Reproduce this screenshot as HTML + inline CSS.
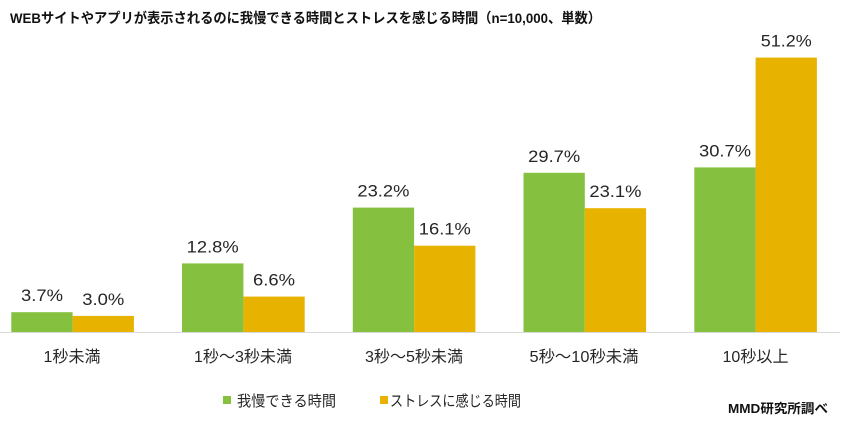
<!DOCTYPE html>
<html><head><meta charset="utf-8">
<style>
html,body{margin:0;padding:0;background:#fff;}
svg{display:block;}
text{font-family:"Liberation Sans","Noto Sans CJK JP",sans-serif;fill:#262626;}
</style></head>
<body>
<svg width="849" height="425" viewBox="0 0 849 425" xmlns="http://www.w3.org/2000/svg">
<rect width="849" height="425" fill="#fff"/>
<text x="10" y="23" font-size="14" font-weight="bold" fill="#111" style="fill:#111" textLength="591" lengthAdjust="spacingAndGlyphs">WEBサイトやアプリが表示されるのに我慢できる時間とストレスを感じる時間（n=10,000、単数）</text>

<!-- bars -->
<g>
<rect x="11.3" y="312.2" width="61.3" height="19.8" fill="#85c13f"/>
<rect x="72.6" y="315.9" width="61.3" height="16.1" fill="#e7b300"/>
<rect x="182" y="263.4" width="61.4" height="68.6" fill="#85c13f"/>
<rect x="243.4" y="296.6" width="61.3" height="35.4" fill="#e7b300"/>
<rect x="352.8" y="207.6" width="61.3" height="124.4" fill="#85c13f"/>
<rect x="414.1" y="245.7" width="61.3" height="86.3" fill="#e7b300"/>
<rect x="523.5" y="172.8" width="61.3" height="159.2" fill="#85c13f"/>
<rect x="584.8" y="208.2" width="61.3" height="123.8" fill="#e7b300"/>
<rect x="694.3" y="167.4" width="61.3" height="164.6" fill="#85c13f"/>
<rect x="755.6" y="57.6" width="61.3" height="274.4" fill="#e7b300"/>
</g>
<line x1="0" y1="332.5" x2="840" y2="332.5" stroke="#d9d9d9" stroke-width="1"/>

<!-- value labels -->
<g font-size="17" text-anchor="middle">
<text x="42" y="301" textLength="42" lengthAdjust="spacingAndGlyphs">3.7%</text>
<text x="103.3" y="305" textLength="42" lengthAdjust="spacingAndGlyphs">3.0%</text>
<text x="212.7" y="252.4" textLength="52" lengthAdjust="spacingAndGlyphs">12.8%</text>
<text x="274" y="285.6" textLength="42" lengthAdjust="spacingAndGlyphs">6.6%</text>
<text x="383.4" y="196.6" textLength="52" lengthAdjust="spacingAndGlyphs">23.2%</text>
<text x="444.8" y="234.7" textLength="52" lengthAdjust="spacingAndGlyphs">16.1%</text>
<text x="554.2" y="161.8" textLength="52" lengthAdjust="spacingAndGlyphs">29.7%</text>
<text x="615.4" y="197.2" textLength="52" lengthAdjust="spacingAndGlyphs">23.1%</text>
<text x="725" y="156.4" textLength="52" lengthAdjust="spacingAndGlyphs">30.7%</text>
<text x="786.3" y="46.6" textLength="51" lengthAdjust="spacingAndGlyphs">51.2%</text>
</g>

<!-- category labels -->
<g font-size="16" text-anchor="middle">
<text x="72" y="362" textLength="57" lengthAdjust="spacingAndGlyphs">1秒未満</text>
<text x="243" y="362" textLength="98" lengthAdjust="spacingAndGlyphs">1秒〜3秒未満</text>
<text x="414" y="362" textLength="98" lengthAdjust="spacingAndGlyphs">3秒〜5秒未満</text>
<text x="584" y="362" textLength="109" lengthAdjust="spacingAndGlyphs">5秒〜10秒未満</text>
<text x="755.5" y="362" textLength="66" lengthAdjust="spacingAndGlyphs">10秒以上</text>
</g>

<!-- legend -->
<rect x="223" y="396" width="8" height="8" fill="#85c13f"/>
<text x="237" y="406" font-size="15" textLength="99" lengthAdjust="spacingAndGlyphs">我慢できる時間</text>
<rect x="380" y="396" width="8" height="8" fill="#e7b300"/>
<text x="390" y="406" font-size="15" textLength="131" lengthAdjust="spacingAndGlyphs">ストレスに感じる時間</text>

<text x="728" y="413" font-size="13" font-weight="bold" style="fill:#111" textLength="100" lengthAdjust="spacingAndGlyphs">MMD研究所調べ</text>
</svg>
</body></html>
